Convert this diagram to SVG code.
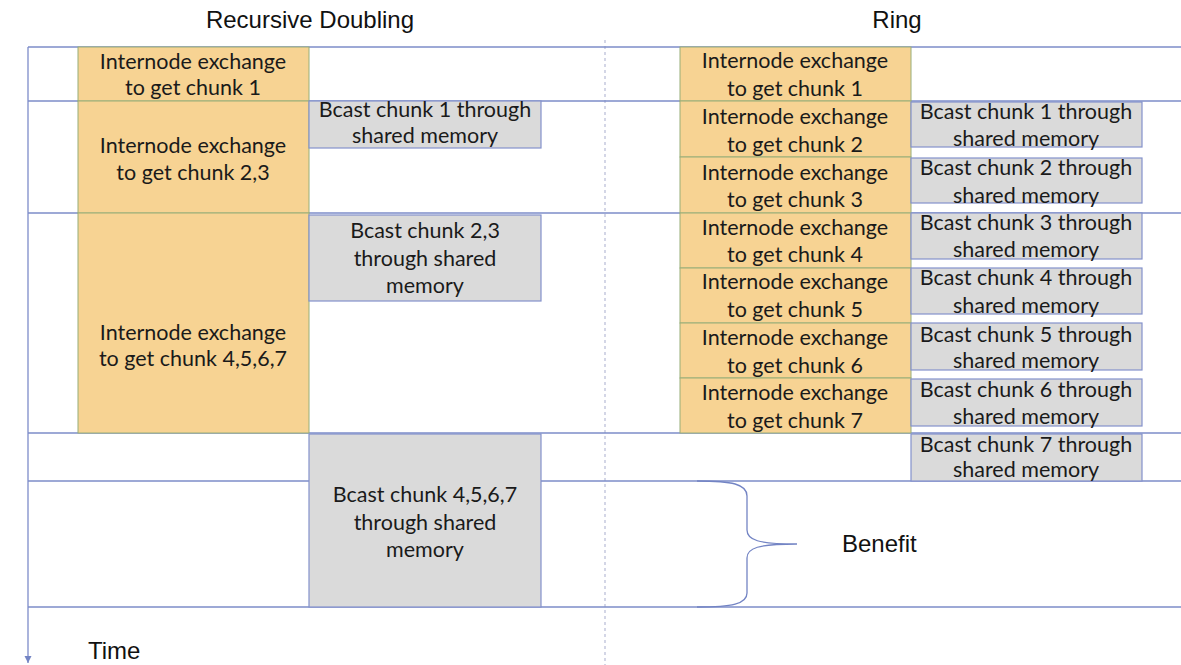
<svg xmlns="http://www.w3.org/2000/svg" width="1181" height="665" viewBox="0 0 1181 665">
  <style>
    .grid { stroke: #7d8cc9; stroke-width: 1.3; fill: none; }
    .divider { stroke: #b7bbd6; stroke-width: 1.2; stroke-dasharray: 3 3; fill: none; }
    .xchg { fill: #f7d393; stroke: #98ae78; stroke-width: 1; }
    .bcast { fill: #dadada; stroke: #8492cc; stroke-width: 1.2; }
    .lbl { font-family: Lato, "Open Sans", "Liberation Sans", sans-serif; font-size: 21.5px; fill: #1a1a1a; text-anchor: middle; }
    .head { font-family: "Liberation Sans", Arial, sans-serif; font-size: 24px; fill: #111; }
    .brace { stroke: #7384c4; stroke-width: 1.3; fill: none; }
  </style>
  <defs>
    <marker id="arrow" markerWidth="8" markerHeight="8" refX="7" refY="4" orient="auto" markerUnits="userSpaceOnUse">
      <path d="M0,0.5 L7,4 L0,7.5 Z" fill="#7384c4"/>
    </marker>
  </defs>

  <rect width="1181" height="665" fill="#ffffff"/>

  <!-- column titles -->
  <text class="head" x="310" y="28" text-anchor="middle">Recursive Doubling</text>
  <text class="head" x="897" y="28" text-anchor="middle">Ring</text>

  <!-- time grid and axis -->
  <g id="connectors">
    <line class="divider" x1="605" y1="40" x2="605" y2="665"/>
    <line class="grid" x1="28" y1="47" x2="1181" y2="47"/>
    <line class="grid" x1="28" y1="101" x2="1181" y2="101"/>
    <line class="grid" x1="28" y1="213" x2="1181" y2="213"/>
    <line class="grid" x1="28" y1="433" x2="1181" y2="433"/>
    <line class="grid" x1="28" y1="481" x2="1181" y2="481"/>
    <line class="grid" x1="28" y1="607" x2="1181" y2="607"/>
    <line class="grid" x1="28" y1="47" x2="28" y2="663" marker-end="url(#arrow)"/>
    <path class="brace" d="M697,481 C732,481 747,484 747,496 L747,530 C747,540 758,544 797,544 C758,544 747,548 747,558 L747,593 C747,604 732,607 697,607"/>
  </g>

  <!-- recursive doubling: internode exchanges -->
  <g id="rd-x1">
    <rect class="xchg" x="78" y="47" width="231" height="54"/>
    <text class="lbl" x="193" y="69">Internode exchange</text>
    <text class="lbl" x="193" y="95">to get chunk 1</text>
  </g>
  <g id="rd-x23">
    <rect class="xchg" x="78" y="101" width="231" height="112"/>
    <text class="lbl" x="193" y="153">Internode exchange</text>
    <text class="lbl" x="193" y="180">to get chunk 2,3</text>
  </g>
  <g id="rd-x4567">
    <rect class="xchg" x="78" y="213" width="231" height="220"/>
    <text class="lbl" x="193" y="340">Internode exchange</text>
    <text class="lbl" x="193" y="366">to get chunk 4,5,6,7</text>
  </g>

  <!-- recursive doubling: shared-memory broadcasts -->
  <g id="rd-b1">
    <rect class="bcast" x="309" y="101" width="232" height="47"/>
    <text class="lbl" x="425" y="117">Bcast chunk 1 through</text>
    <text class="lbl" x="425" y="143">shared memory</text>
  </g>
  <g id="rd-b23">
    <rect class="bcast" x="309" y="215" width="232" height="86"/>
    <text class="lbl" x="425" y="238">Bcast chunk 2,3</text>
    <text class="lbl" x="425" y="266">through shared</text>
    <text class="lbl" x="425" y="293">memory</text>
  </g>
  <g id="rd-b4567">
    <rect class="bcast" x="309" y="434" width="232" height="173"/>
    <text class="lbl" x="425" y="502">Bcast chunk 4,5,6,7</text>
    <text class="lbl" x="425" y="530">through shared</text>
    <text class="lbl" x="425" y="557">memory</text>
  </g>

  <!-- ring: internode exchanges -->
  <g id="ring-x1">
    <rect class="xchg" x="680" y="47" width="231" height="54"/>
    <text class="lbl" x="795" y="68">Internode exchange</text>
    <text class="lbl" x="795" y="96">to get chunk 1</text>
  </g>
  <g id="ring-x2">
    <rect class="xchg" x="680" y="101" width="231" height="56"/>
    <text class="lbl" x="795" y="124">Internode exchange</text>
    <text class="lbl" x="795" y="152">to get chunk 2</text>
  </g>
  <g id="ring-x3">
    <rect class="xchg" x="680" y="157" width="231" height="56"/>
    <text class="lbl" x="795" y="180">Internode exchange</text>
    <text class="lbl" x="795" y="207">to get chunk 3</text>
  </g>
  <g id="ring-x4">
    <rect class="xchg" x="680" y="213" width="231" height="55"/>
    <text class="lbl" x="795" y="235">Internode exchange</text>
    <text class="lbl" x="795" y="262">to get chunk 4</text>
  </g>
  <g id="ring-x5">
    <rect class="xchg" x="680" y="268" width="231" height="55"/>
    <text class="lbl" x="795" y="289">Internode exchange</text>
    <text class="lbl" x="795" y="317">to get chunk 5</text>
  </g>
  <g id="ring-x6">
    <rect class="xchg" x="680" y="323" width="231" height="55"/>
    <text class="lbl" x="795" y="345">Internode exchange</text>
    <text class="lbl" x="795" y="373">to get chunk 6</text>
  </g>
  <g id="ring-x7">
    <rect class="xchg" x="680" y="378" width="231" height="55"/>
    <text class="lbl" x="795" y="400">Internode exchange</text>
    <text class="lbl" x="795" y="428">to get chunk 7</text>
  </g>

  <!-- ring: shared-memory broadcasts -->
  <g id="ring-b1">
    <rect class="bcast" x="911" y="102" width="231" height="45"/>
    <text class="lbl" x="1026" y="119">Bcast chunk 1 through</text>
    <text class="lbl" x="1026" y="146">shared memory</text>
  </g>
  <g id="ring-b2">
    <rect class="bcast" x="911" y="158" width="231" height="45"/>
    <text class="lbl" x="1026" y="175">Bcast chunk 2 through</text>
    <text class="lbl" x="1026" y="203">shared memory</text>
  </g>
  <g id="ring-b3">
    <rect class="bcast" x="911" y="213" width="231" height="46"/>
    <text class="lbl" x="1026" y="230">Bcast chunk 3 through</text>
    <text class="lbl" x="1026" y="257">shared memory</text>
  </g>
  <g id="ring-b4">
    <rect class="bcast" x="911" y="268" width="231" height="46"/>
    <text class="lbl" x="1026" y="285">Bcast chunk 4 through</text>
    <text class="lbl" x="1026" y="313">shared memory</text>
  </g>
  <g id="ring-b5">
    <rect class="bcast" x="911" y="323" width="231" height="47"/>
    <text class="lbl" x="1026" y="342">Bcast chunk 5 through</text>
    <text class="lbl" x="1026" y="368">shared memory</text>
  </g>
  <g id="ring-b6">
    <rect class="bcast" x="911" y="379" width="231" height="47"/>
    <text class="lbl" x="1026" y="397">Bcast chunk 6 through</text>
    <text class="lbl" x="1026" y="424">shared memory</text>
  </g>
  <g id="ring-b7">
    <rect class="bcast" x="911" y="434" width="231" height="47"/>
    <text class="lbl" x="1026" y="452">Bcast chunk 7 through</text>
    <text class="lbl" x="1026" y="477">shared memory</text>
  </g>

  <!-- annotations -->
  <text class="head" x="842" y="552" font-size="25">Benefit</text>
  <text class="head" x="88" y="659">Time</text>
</svg>
